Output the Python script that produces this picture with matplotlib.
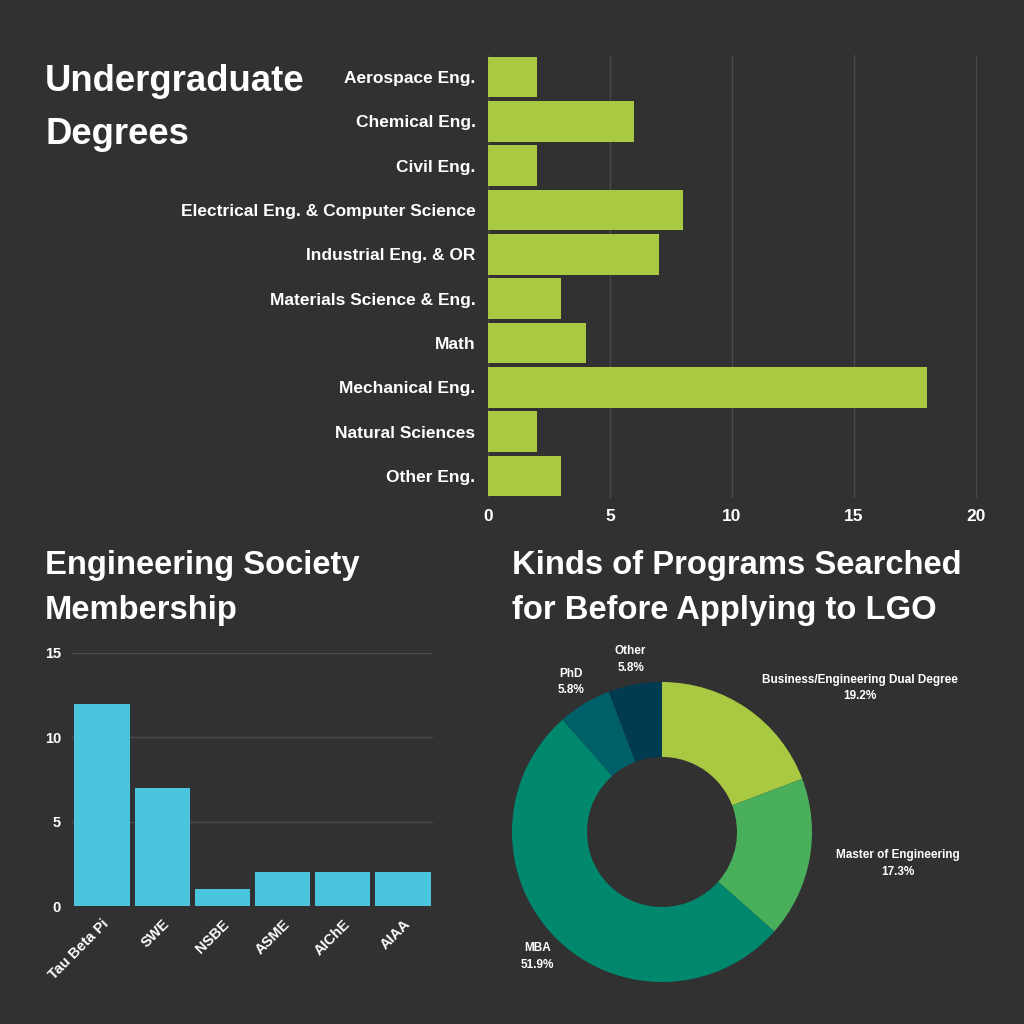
import matplotlib
matplotlib.use("Agg")
import matplotlib.pyplot as plt

plt.rcParams['font.family'] = ['Liberation Sans', 'DejaVu Sans']
plt.rcParams['font.weight'] = 'bold'

BG = "#313131"
GRID = "#4a4a4a"
WHITE = "#ffffff"

# undergraduate degrees
degree_labels = ["Aerospace Eng.", "Chemical Eng.", "Civil Eng.",
                 "Electrical Eng. & Computer Science", "Industrial Eng. & OR",
                 "Materials Science & Eng.", "Math", "Mechanical Eng.",
                 "Natural Sciences", "Other Eng."]
degree_counts = [2, 6, 2, 8, 7, 3, 4, 18, 2, 3]
degree_ticks = [0, 5, 10, 15, 20]

# engineering society membership
society_labels = ["Tau Beta Pi", "SWE", "NSBE", "ASME", "AIChE", "AIAA"]
society_counts = [12, 7, 1, 2, 2, 2]
society_ticks = [0, 5, 10, 15]

# kinds of programs searched (counts out of 52)
program_labels = ["Business/Engineering Dual Degree", "Master of Engineering",
                  "MBA", "PhD", "Other"]
program_counts = [10, 9, 27, 3, 3]
program_colors = ["#aac943", "#4aaf5b", "#00886e", "#00606a", "#003b52"]
# where each pie label sits (units of outer radius)
program_label_xy = [(1.32, 0.96), (1.57, -0.21), (-0.83, -0.83),
                    (-0.61, 1.0), (-0.21, 1.15)]

fig = plt.figure(figsize=(10.24, 10.24), dpi=100, facecolor=BG)

def px(l, t, r, b):
    return [l / 1024, 1 - b / 1024, (r - l) / 1024, (b - t) / 1024]

# ---- top: horizontal bars
ax1 = fig.add_axes(px(488, 55, 977, 498))
ax1.set_facecolor(BG)
ypos = range(len(degree_labels))
ax1.barh(ypos, degree_counts, height=0.915, color="#aac943", zorder=3)
ax1.set_ylim(len(degree_labels) - 0.5, -0.5)
ax1.set_xlim(0, 20.05)
ax1.set_yticks(list(ypos))
ax1.set_yticklabels(degree_labels, fontsize=12.5, color=WHITE, fontweight="bold")
ax1.set_xticks(degree_ticks)
ax1.set_xticklabels([str(t) for t in degree_ticks], fontsize=12.5, color=WHITE, fontweight="bold")
ax1.tick_params(length=0, axis="y", pad=9)
ax1.tick_params(length=0, axis="x", pad=8)
ax1.grid(axis="x", color=GRID, linewidth=1, zorder=0)
for s in ax1.spines.values():
    s.set_visible(False)

fig.text(45 / 1024, 1 - 64 / 1024, "Undergraduate\nDegrees", fontsize=26.3,
         color=WHITE, fontweight="bold", va="top", ha="left", linespacing=1.68)

# ---- bottom left: column bars
ax2 = fig.add_axes(px(72, 653, 433, 906))
ax2.set_facecolor(BG)
xpos = range(len(society_labels))
ax2.bar(xpos, society_counts, width=0.92, color="#4bc4de", zorder=3)
ax2.set_xlim(-0.5, len(society_labels) - 0.5)
ax2.set_ylim(0, 15)
ax2.set_yticks(society_ticks)
ax2.set_yticklabels([str(t) for t in society_ticks], fontsize=10.5, color=WHITE, fontweight="bold")
ax2.set_xticks(list(xpos))
ax2.set_xticklabels(society_labels, fontsize=10.5, color=WHITE, fontweight="bold",
                    rotation=45, ha="right", rotation_mode="anchor")
ax2.tick_params(length=0, axis="y", pad=8)
ax2.tick_params(length=0, axis="x", pad=8)
ax2.grid(axis="y", color=GRID, linewidth=1, zorder=0)
for s in ax2.spines.values():
    s.set_visible(False)

fig.text(45 / 1024, 1 - 550 / 1024, "Engineering Society\nMembership", fontsize=23.6,
         color=WHITE, fontweight="bold", va="top", ha="left", linespacing=1.58)

# ---- bottom right: donut
ax3 = fig.add_axes(px(472, 642, 852, 1022))
ax3.set_facecolor(BG)
ax3.pie(program_counts, colors=program_colors, startangle=90, counterclock=False,
        radius=1, wedgeprops=dict(width=0.5, linewidth=0))
total = sum(program_counts)
for lab, c, (tx, ty) in zip(program_labels, program_counts, program_label_xy):
    ax3.text(tx, ty, f"{lab}\n{100 * c / total:.1f}%", ha="center", va="center",
             fontsize=8.5, color=WHITE, fontweight="bold", linespacing=1.5)
ax3.set_xlim(-190 / 150, 190 / 150)
ax3.set_ylim(-190 / 150, 190 / 150)
ax3.set_aspect("equal")
ax3.axis("off")

fig.text(512 / 1024, 1 - 550 / 1024, "Kinds of Programs Searched\nfor Before Applying to LGO",
         fontsize=23.6, color=WHITE, fontweight="bold", va="top", ha="left", linespacing=1.58)

fig.savefig("out.png", dpi=100, facecolor=BG)
